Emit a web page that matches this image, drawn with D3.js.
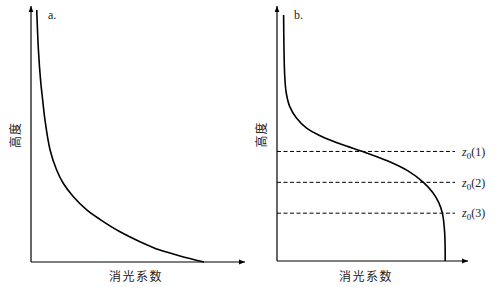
<!DOCTYPE html>
<html>
<head>
<meta charset="utf-8">
<script src="https://cdn.jsdelivr.net/npm/d3@7"></script>
<style>
  body { margin: 0; background: #fff; }
  .cn { font-family: "Noto Sans CJK SC", sans-serif; font-size: 12px; fill: #222; }
  .lt { font-family: "Liberation Serif", serif; font-size: 12px; fill: #222; }
</style>
</head>
<body>
<div id="chart"></div>
<script>
// panel a: extinction vs height (data units 0-100)
const curveA = [
  [2.7, 99.2], [3.5, 83.5], [4.5, 71.7], [5.5, 63.8], [6.6, 55.9], [9.0, 44.1],
  [12.1, 36.2], [15.2, 31.0], [20.0, 25.7], [26.3, 20.5], [32.5, 16.8], [42.0, 11.9],
  [51.4, 8.0], [60.8, 4.7], [70.3, 2.4], [81.6, 0]
];
// panel b
const curveB = [
  [3.5, 97.2], [3.7, 83.5], [4.1, 73.0], [4.9, 66.4], [6.7, 61.1], [10.2, 56.6],
  [15.5, 52.6], [23.4, 49.3], [34.0, 46.1], [46.4, 43.0], [58.7, 39.5], [69.3, 35.6],
  [77.6, 31.0], [82.5, 27.0], [85.6, 23.1], [87.5, 18.9], [88.7, 11.3], [89.0, 0]
];
const z0Heights = [43.3, 31.1, 18.9];
const z0Labels = ['1', '2', '3'];
const dashEnd = 94.2;

const W = 498, H = 287;
const svg = d3.select('#chart').append('svg').attr('width', W).attr('height', H);

svg.append('defs').append('marker')
  .attr('id', 'arr').attr('viewBox', '0 0 10 10')
  .attr('refX', 10).attr('refY', 5)
  .attr('markerWidth', 5).attr('markerHeight', 5)
  .attr('orient', 'auto-start-reverse')
  .append('path').attr('d', 'M0,1 L10,5 L0,9 Z').attr('fill', '#000');

function panel(opts) {
  const x = d3.scaleLinear().domain([0, 100]).range([opts.x0, opts.x1]);
  const y = d3.scaleLinear().domain([0, 100]).range([opts.y0, 8]);
  const g = svg.append('g');

  // axes with arrows
  g.append('line')
    .attr('x1', x(0)).attr('y1', y(0)).attr('x2', x(0)).attr('y2', y(100) - 2)
    .attr('stroke', '#000').attr('stroke-width', 1.2).attr('marker-end', 'url(#arr)');
  g.append('line')
    .attr('x1', x(0)).attr('y1', y(0)).attr('x2', x(100) + 2).attr('y2', y(0))
    .attr('stroke', '#000').attr('stroke-width', 1.2).attr('marker-end', 'url(#arr)');

  const line = d3.line().x(d => x(d[0])).y(d => y(d[1])).curve(d3.curveCatmullRom.alpha(0.5));
  g.append('path').datum(opts.data)
    .attr('d', line).attr('fill', 'none').attr('stroke', '#000').attr('stroke-width', 1.6);

  g.append('text').attr('class', 'lt').attr('x', opts.x0 + 17).attr('y', 19).text(opts.tag);

  g.append('text').attr('class', 'cn')
    .attr('text-anchor', 'middle')
    .attr('transform', `translate(${opts.x0 - 15},${y(50)}) rotate(-90)`)
    .attr('dy', '0.35em').style('letter-spacing', '1px').text('高度');

  g.append('text').attr('class', 'cn')
    .attr('text-anchor', 'middle')
    .attr('x', opts.labelX).attr('y', 277).attr('dy', '0.35em')
    .style('letter-spacing', '1.5px').text('消光系数');

  return {x, y, g};
}

panel({x0: 31, x1: 243, y0: 262, data: curveA, tag: 'a.', labelX: 136});
const pb = panel({x0: 277, x1: 466, y0: 261, data: curveB, tag: 'b.', labelX: 366});

pb.g.selectAll('.z0').data(z0Heights).enter().append('line')
  .attr('class', 'z0')
  .attr('x1', pb.x(0)).attr('x2', pb.x(dashEnd))
  .attr('y1', d => pb.y(d)).attr('y2', d => pb.y(d))
  .attr('stroke', '#000').attr('stroke-width', 1).attr('stroke-dasharray', '4,2.5');

const lab = pb.g.selectAll('.zl').data(z0Heights).enter().append('text')
  .attr('class', 'lt').attr('x', 462).attr('y', d => pb.y(d)).attr('dy', '0.35em');
lab.append('tspan').style('font-style', 'italic').text('z');
lab.append('tspan').attr('dy', 3).style('font-size', '9px').text('0');
lab.append('tspan').attr('dy', -3).text((d, i) => '(' + z0Labels[i] + ')');
</script>
</body>
</html>
